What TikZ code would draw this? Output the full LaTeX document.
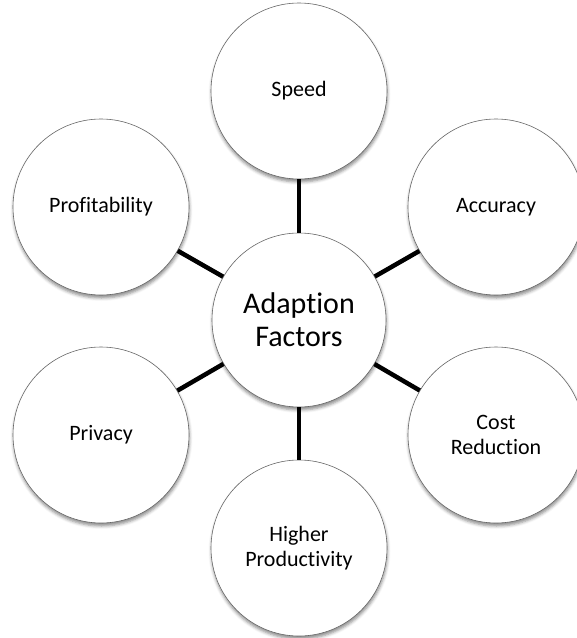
\documentclass[tikz,border=0pt]{standalone}
\usepackage{fontspec}
\setmainfont[Ligatures=NoCommon]{Carlito}
\usetikzlibrary{shadows.blur}
\begin{document}
\begin{tikzpicture}[x=1pt,y=-1pt,
  factor/.style={circle, draw=black!60, line width=0.6pt, fill=white,
    minimum size=176pt, inner sep=0pt, align=center,
    font=\fontsize{22}{25}\selectfont,
    blur shadow={shadow xshift=0.5pt, shadow yshift=-3pt,
      shadow blur radius=3pt, shadow opacity=45}},
  hub/.style={factor, minimum size=174pt, font=\fontsize{30}{33}\selectfont},
  link/.style={line width=4.5pt, draw=black}]
\useasboundingbox (0,0) rectangle (577,638);

% central node
\node[hub] (hub) at (299,320) {Adaption\\Factors};

% surrounding factors
\node[factor] (speed)  at (299,91)  {Speed};
\node[factor] (acc)    at (496,207) {Accuracy};
\node[factor] (cost)   at (496,435) {Cost\\Reduction};
\node[factor] (prod)   at (299,548) {Higher\\Productivity};
\node[factor] (priv)   at (101,435) {Privacy};
\node[factor] (profit) at (101,207) {Profitability};

% spokes
\foreach \n in {speed,acc,cost,prod,priv,profit}
  \draw[link] (hub) -- (\n);
\end{tikzpicture}
\end{document}
